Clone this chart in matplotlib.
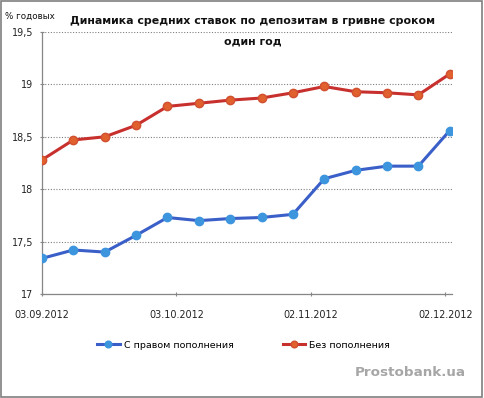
import matplotlib
matplotlib.use("Agg")
import matplotlib.pyplot as plt
import numpy as np
from datetime import datetime, timedelta

dates = ["03.09.2012", "10.09.2012", "17.09.2012", "24.09.2012", "01.10.2012",
         "08.10.2012", "15.10.2012", "22.10.2012", "29.10.2012", "05.11.2012",
         "12.11.2012", "19.11.2012", "26.11.2012", "03.12.2012"]
with_topup = [17.34, 17.42, 17.40, 17.56, 17.73, 17.70, 17.72, 17.73, 17.76,
              18.10, 18.18, 18.22, 18.22, 18.56]
without_topup = [18.28, 18.47, 18.50, 18.61, 18.79, 18.82, 18.85, 18.87, 18.92,
                 18.98, 18.93, 18.92, 18.90, 19.10]
tick_dates = ["03.09.2012", "03.10.2012", "02.11.2012", "02.12.2012"]
y_ticks = [17, 17.5, 18, 18.5, 19, 19.5]
y_tick_labels = ["17", "17,5", "18", "18,5", "19", "19,5"]
series_names = ["С правом пополнения", "Без пополнения"]
title_lines = ["Динамика средних ставок по депозитам в гривне сроком", "один год"]

plt.rcParams['font.family'] = ['DejaVu Sans']

x = [datetime.strptime(d, "%d.%m.%Y") for d in dates]
xt = [datetime.strptime(d, "%d.%m.%Y") for d in tick_dates]

fig = plt.figure(figsize=(4.84, 3.98), dpi=100)
ax = fig.add_axes([42/484, 1-294/398, (452-42)/484, (294-32)/398])

ax.plot(x, with_topup, color="#3a5fc8", lw=2.2, marker="o", ms=6,
        mfc="#3d95dd", mec="#3d95dd", label=series_names[0], zorder=3)
ax.plot(x, without_topup, color="#c8302e", lw=2.2, marker="o", ms=6,
        mfc="#e0602e", mec="#d05030", label=series_names[1], zorder=3)

ax.set_ylim(17, 19.5)
ax.set_xlim(x[0], x[-1] + timedelta(days=0.5))
ax.set_yticks(y_ticks)
ax.set_yticklabels(y_tick_labels)
ax.set_xticks(xt)
ax.set_xticklabels(tick_dates)
ax.grid(axis="y", color="#808080", linestyle=(0, (1, 1.5)), lw=0.8)
ax.set_axisbelow(True)
for s in ["top", "right"]:
    ax.spines[s].set_visible(False)
for s in ["left", "bottom"]:
    ax.spines[s].set_color("#868686")
    ax.spines[s].set_linewidth(0.9)
ax.tick_params(axis="both", colors="#868686", labelcolor="#222222", labelsize=6.9,
               length=3, direction="inout", width=0.8)
ax.tick_params(axis="y", pad=5)
ax.tick_params(axis="x", pad=10)

fig.text(253/484, 1-21/398, title_lines[0], ha="center", va="center", fontsize=7.9,
         fontweight="bold", color="#111111")
fig.text(253/484, 1-41/398, title_lines[1], ha="center", va="center", fontsize=7.9,
         fontweight="bold", color="#111111")
fig.text(5/484, 1-16/398, "% годовых", ha="left", va="center", fontsize=6.3,
         color="#111111")

leg = fig.legend(loc="center", bbox_to_anchor=(0.503, 1-345/398), ncol=2,
                 frameon=False, fontsize=6.8, handlelength=2.4, columnspacing=5.2,
                 handletextpad=0.4, markerscale=0.8)
fig.text(466/484, 1-372/398, "Prostobank.ua", ha="right", va="center",
         fontsize=9.7, fontweight="bold", color="#a6a6a6")

border = plt.Rectangle((0.002, 0.003), 0.994, 0.994, transform=fig.transFigure,
                       fill=False, edgecolor="#7f7f7f", lw=1.2)
fig.patches.append(border)

fig.savefig("out.png", dpi=100)
